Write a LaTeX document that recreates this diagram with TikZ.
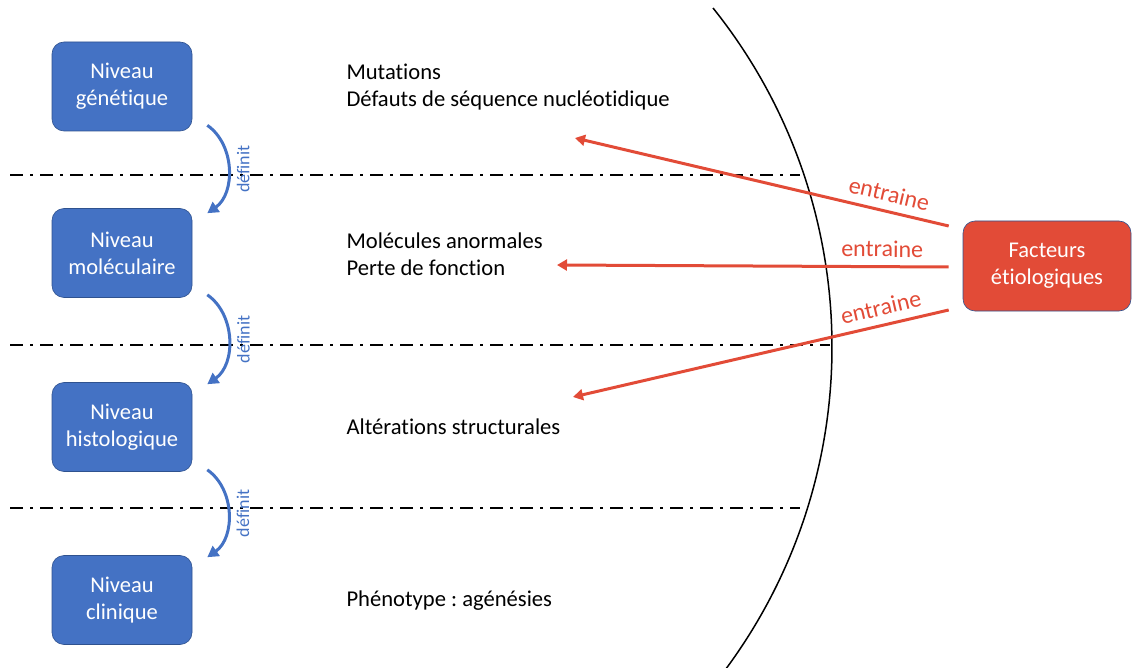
\documentclass[tikz,border=0pt]{standalone}
\usepackage{fontspec}
\setmainfont{Carlito}[Ligatures={NoCommon,NoContextual}]
\usetikzlibrary{arrows.meta,calc}
\definecolor{niveaublue}{RGB}{68,114,196}
\definecolor{niveauedge}{RGB}{47,82,143}
\definecolor{facteurred}{RGB}{226,75,55}
\frenchspacing

\begin{document}
\begin{tikzpicture}[x=1pt,y=-1pt,
  niveau/.style={draw=niveauedge,fill=niveaublue,rounded corners=12pt,minimum width=140pt,minimum height=89pt,
    align=center,text=white,font=\fontsize{22.5}{27}\selectfont,line width=0.6pt},
  facteur/.style={niveau,fill=facteurred,minimum width=168pt,minimum height=90pt},
  effet/.style={anchor=west,align=left,font=\fontsize{22.6}{27}\selectfont},
  definit/.style={draw=niveaublue,line width=3pt,-{Triangle[length=11pt,width=12pt]},bend left=55},
  entraine/.style={draw=facteurred,line width=3pt,-{Triangle[length=10pt,width=11pt]}},
  lblred/.style={text=facteurred,font=\fontsize{24}{28}\selectfont,sloped,above=6pt,inner sep=2pt},
  lblblue/.style={text=niveaublue,font=\fontsize{18}{20}\selectfont,midway,rotate=90,anchor=north,inner sep=7pt},
  sep/.style={line width=2.5pt,dash pattern=on 13pt off 7pt on 3pt off 7pt}]
\useasboundingbox (0,0) rectangle (1132,668);
% horizon
\draw[line width=1.5pt] (713,8) arc[start angle=-38.7,end angle=36.4,radius=542];
% level separators
\draw[sep] (10,175) -- (800,175);
\draw[sep] (10,345) -- (830,345);
\draw[sep] (10,508) -- (800,508);
% levels
\node[niveau] (gen) at (122,86.5) {Niveau\\génétique};
\node[niveau] (mol) at (122,253) {Niveau\\moléculaire};
\node[niveau] (his) at (122,427) {Niveau\\histologique};
\node[niveau] (cli) at (122,600) {Niveau\\clinique};
\node[facteur] (fac) at (1047,266) {Facteurs\\étiologiques};
% descriptions
\node[effet] (mutations) at (343,87) {Mutations\\Défauts de séquence nucléotidique};
\node[effet] (molecules) at (343,254) {Molécules anormales\\Perte de fonction};
\node[effet] (alterations) at (343,427) {Altérations structurales};
\node[effet] (phenotype) at (343,601) {Phénotype : agénésies};
% targets of the red arrows
\coordinate (tgen) at (575,138);
\coordinate (tmol) at (557,265);
\coordinate (this) at (573,397);
\draw[entraine] ([xshift=-14pt,yshift=40pt]fac.west) -- node[lblred,pos=0.17] {entraine} (tgen);
\draw[entraine] ([xshift=-14pt,yshift=-1pt]fac.west) -- node[lblred,pos=0.17] {entraine} (tmol);
\draw[entraine] ([xshift=-14pt,yshift=-44pt]fac.west) -- node[lblred,pos=0.17] {entraine} (this);
% definit
\draw[definit] ([xshift=15pt,yshift=6pt]gen.south east) to node[lblblue] {définit} ([xshift=15pt,yshift=-5pt]mol.north east);
\draw[definit] ([xshift=15pt,yshift=3pt]mol.south east) to node[lblblue] {définit} ([xshift=15pt,yshift=-2pt]his.north east);
\draw[definit] ([xshift=15pt,yshift=2pt]his.south east) to node[lblblue] {définit} ([xshift=15pt,yshift=-2pt]cli.north east);
\end{tikzpicture}
\end{document}
